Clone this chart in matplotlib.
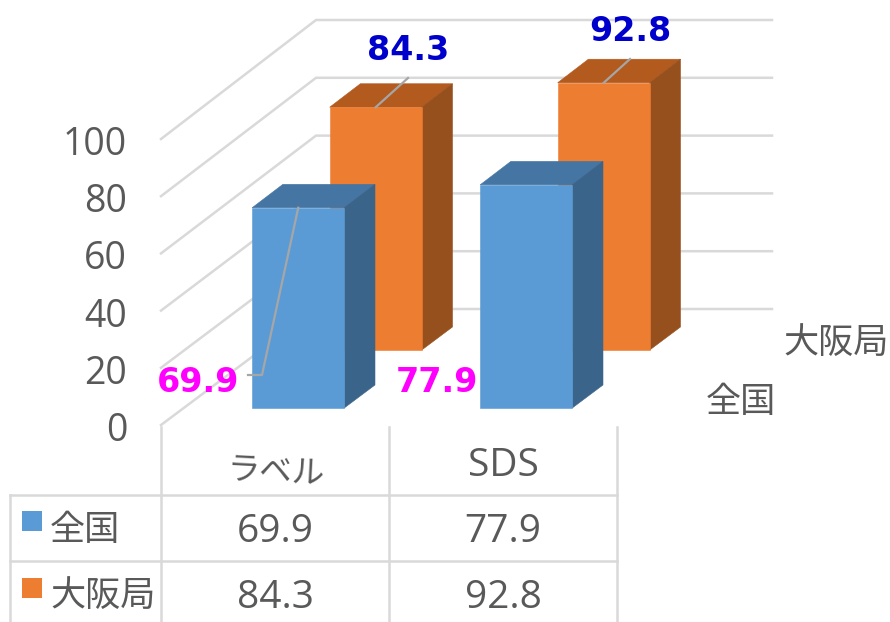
import matplotlib
matplotlib.use("Agg")
import matplotlib.pyplot as plt
from matplotlib.patches import Polygon, Rectangle

categories = ['ラベル', 'SDS']
series_names = ['全国', '大阪局']
national = [69.9, 77.9]
osaka = [84.3, 92.8]
yticks = [0, 20, 40, 60, 80, 100]

# colours: front, top, side
blue = ['#5B9BD5', '#4575A3', '#3B648B']
orange = ['#ED7D31', '#B35A1F', '#95501D']
grey = '#595959'
gridc = '#D9D9D9'
leaderc = '#A6A6A6'

jp = ['Noto Sans CJK JP', 'DejaVu Sans']
num = ['Open Sans', 'Noto Sans CJK JP']

# oblique projection, output is in image pixels
x0 = 161
y0 = 425
cat_w = 228
depth_x = 155
depth_y = 116

def project(cat, depth, val):
    x = x0 + cat*cat_w + depth*depth_x
    y = y0 - depth*depth_y - val*(2.86 + 0.03*depth)
    return x, y

bar_off = 0.3
bar_w = 0.404
bar_d = 0.198

fig = plt.figure(figsize=(8.9, 6.22), dpi=100)
ax = fig.add_axes([0, 0, 1, 1])
ax.set_xlim(0, 890)
ax.set_ylim(622, 0)
ax.axis('off')

# walls
for v in yticks:
    a = project(0, 0, v)
    b = project(0, 1, v)
    c = project(2, 1, v)
    ax.plot([a[0], b[0], c[0]], [a[1], b[1], c[1]], color=gridc, lw=1.8, zorder=1,
            solid_joinstyle='miter')
    ax.text(127, a[1]+16, str(v), ha='right', va='baseline', color=grey, fontsize=27, family=num)

def draw_bar(cat, depth, val, cols, z):
    c = cat + bar_off
    f = [project(c, depth, 0), project(c+bar_w, depth, 0), project(c+bar_w, depth, val), project(c, depth, val)]
    t = [project(c, depth, val), project(c+bar_w, depth, val),
         project(c+bar_w, depth+bar_d, val), project(c, depth+bar_d, val)]
    s = [project(c+bar_w, depth, 0), project(c+bar_w, depth+bar_d, 0),
         project(c+bar_w, depth+bar_d, val), project(c+bar_w, depth, val)]
    ax.add_patch(Polygon(t, closed=True, fc=cols[1], ec=cols[1], lw=0.4, zorder=z))
    ax.add_patch(Polygon(s, closed=True, fc=cols[2], ec=cols[2], lw=0.4, zorder=z))
    ax.add_patch(Polygon(f, closed=True, fc=cols[0], ec=cols[0], lw=0.4, zorder=z))

for i in range(len(categories)):
    draw_bar(i, 0.647, osaka[i], orange, 2)
    draw_bar(i, 0.147, national[i], blue, 3)

# leader lines
lx, ly = project(0+bar_off+bar_w/2, 0.147, national[0])
ax.plot([lx, 262, 248], [ly, 375, 375], color=leaderc, lw=1.6, zorder=4)
lx, ly = project(0+bar_off+bar_w/2, 0.647, osaka[0])
ax.plot([lx, 408], [ly, 78], color=leaderc, lw=1.6, zorder=4)
lx, ly = project(1+bar_off+bar_w/2, 0.647, osaka[1])
ax.plot([lx, 630], [ly, 59], color=leaderc, lw=1.6, zorder=4)

# data labels
ax.text(198, 392, f'{national[0]}', ha='center', color='#FF00FF', fontsize=24, weight='bold', zorder=5)
ax.text(437, 392, f'{national[1]}', ha='center', color='#FF00FF', fontsize=24, weight='bold', zorder=5)
ax.text(408, 60, f'{osaka[0]}', ha='center', color='#0000CC', fontsize=24, weight='bold', zorder=5)
ax.text(630, 41, f'{osaka[1]}', ha='center', color='#0000CC', fontsize=24, weight='bold', zorder=5)

# series axis labels
ax.text(836, 353, series_names[1], ha='center', color=grey, fontsize=25.3, family=jp)
ax.text(741, 412, series_names[0], ha='center', color=grey, fontsize=25.3, family=jp)

# data table
tx = [x0 + i*cat_w for i in range(3)]
for x in tx:
    ax.plot([x, x], [427, 622], color=gridc, lw=1.8, zorder=1)
ax.plot([10, 10], [495, 622], color=gridc, lw=1.8, zorder=1)
for y in [495, 561]:
    ax.plot([10, tx[2]], [y, y], color=gridc, lw=1.8, zorder=1)

cx = [(tx[0]+tx[1])/2, (tx[1]+tx[2])/2]
ax.text(cx[0], 481, categories[0], ha='center', color=grey, fontsize=23.5, family=jp, rotation=-3,
        rotation_mode='anchor')
ax.text(cx[1], 476, categories[1], ha='center', color=grey, fontsize=28, family=num)
rows = [national, osaka]
row_y = [542, 608]
key_y = [511, 578]
txt_y = [540, 606]
key_c = [blue[0], orange[0]]
for r in range(2):
    for i in range(2):
        ax.text(cx[i], row_y[r], f'{rows[r][i]}', ha='center', color=grey, fontsize=28, family=num)
    ax.add_patch(Rectangle((22, key_y[r]), 20, 20, fc=key_c[r], ec='none'))
    ax.text(50, txt_y[r], series_names[r], ha='left', color=grey, fontsize=25.3, family=jp)

fig.savefig('out.png', dpi=100)
